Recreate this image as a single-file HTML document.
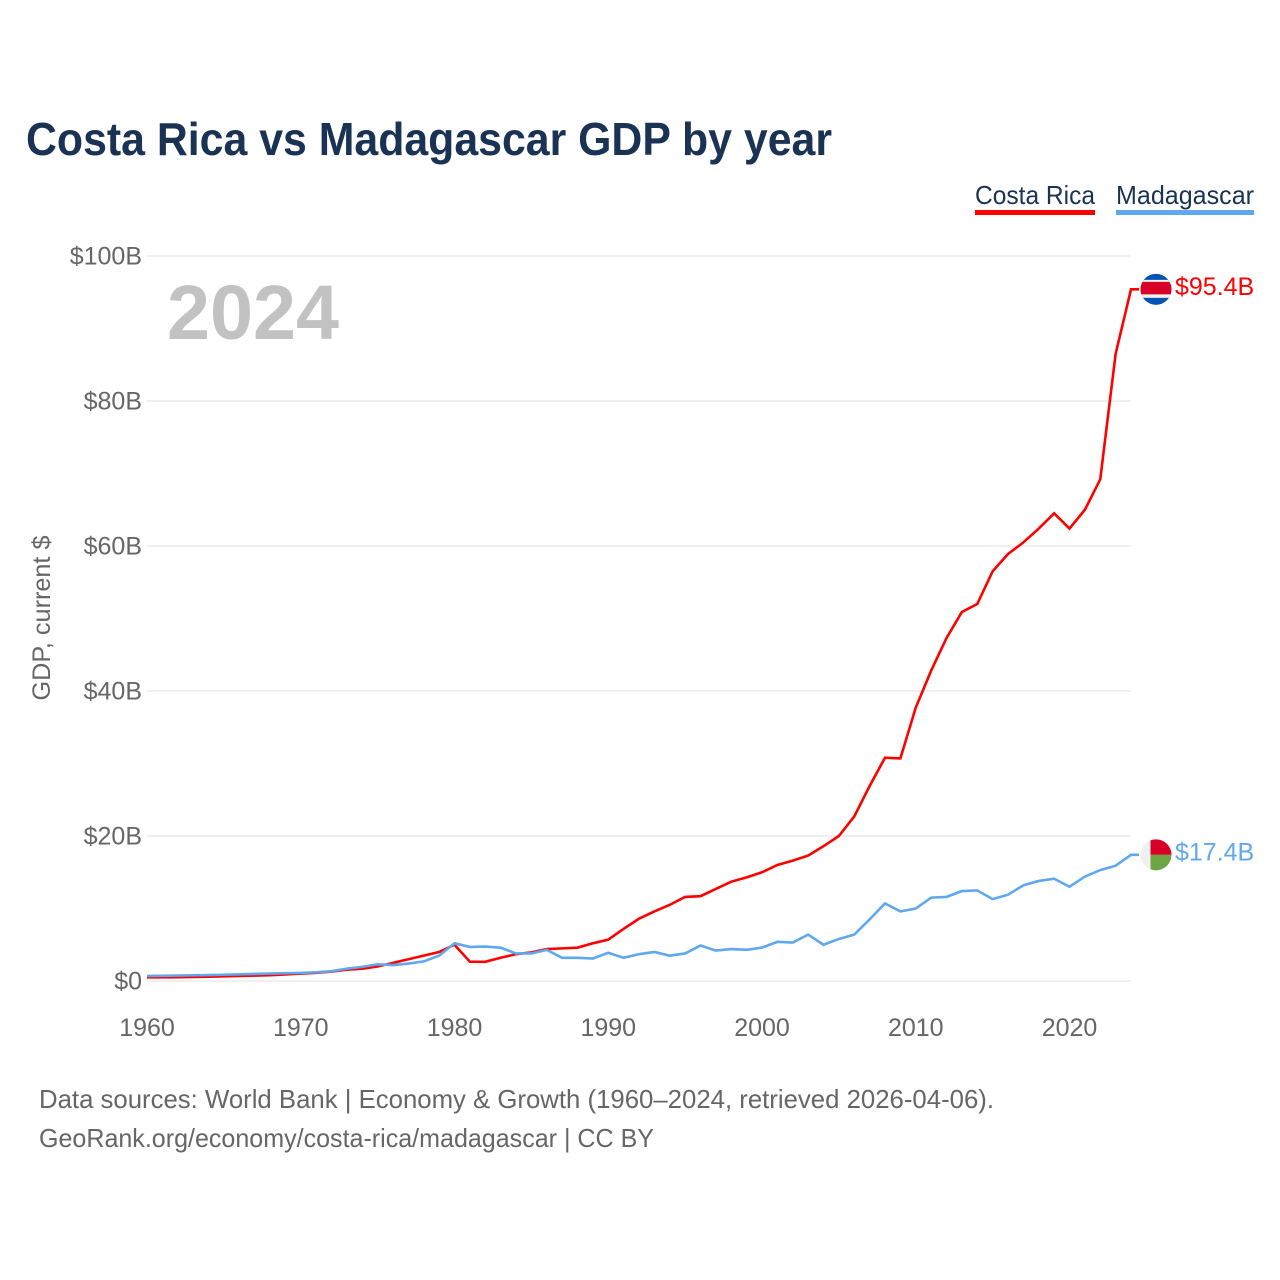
<!DOCTYPE html>
<html lang="en">
<head>
<meta charset="utf-8">
<title>Costa Rica vs Madagascar GDP by year</title>
<style>
html,body{margin:0;padding:0;background:#fff;width:1280px;height:1280px;overflow:hidden}
svg{display:block}
text{font-family:"Liberation Sans",Arial,sans-serif}
</style>
</head>
<body>
<svg id="chart" width="1280" height="1280" viewBox="0 0 1280 1280" xmlns="http://www.w3.org/2000/svg">
  <defs>
    <clipPath id="flag-clip"><circle cx="0" cy="0" r="15.5"></circle></clipPath>
  </defs>
  <rect width="1280" height="1280" fill="#fff"></rect>
  <text x="26" y="155" font-size="46" font-weight="700" fill="#1a3354" textLength="806" lengthAdjust="spacingAndGlyphs">Costa Rica vs Madagascar GDP by year</text>

  <g>
    <g>
      <text x="975" y="204" font-size="26" fill="#1a3354" textLength="120" lengthAdjust="spacingAndGlyphs">Costa Rica</text>
      <rect x="975" y="210" width="120" height="5" fill="#ff0000"></rect>
    </g>
    <g>
      <text x="1116" y="204" font-size="26" fill="#1a3354" textLength="138" lengthAdjust="spacingAndGlyphs">Madagascar</text>
      <rect x="1116" y="210" width="138" height="5" fill="#5fa8ee"></rect>
    </g>
  </g>

  <g id="grid"></g>
  <g id="y-axis"></g>
  <g id="x-axis"></g>

  <text transform="translate(50,618) rotate(-90)" text-anchor="middle" font-size="25" fill="#666" textLength="165" lengthAdjust="spacingAndGlyphs">GDP, current $</text>
  <text x="167" y="339" font-size="77" font-weight="700" fill="#c2c2c2" textLength="172" lengthAdjust="spacingAndGlyphs">2024</text>

  <g id="lines"></g>

  <g id="flag-cr">
    <g clip-path="url(#flag-clip)">
      <rect x="-16" y="-16" width="32" height="32" fill="#0052b4"></rect>
      <rect x="-16" y="-9.5" width="32" height="18" fill="#f0f0f0"></rect>
      <rect x="-16" y="-7.5" width="32" height="12.5" fill="#d80027"></rect>
    </g>
  </g>
  <g id="flag-mg">
    <g clip-path="url(#flag-clip)">
      <rect x="-16" y="-16" width="32" height="32" fill="#f0f0f0"></rect>
      <rect x="-5.5" y="-16" width="22" height="16" fill="#d80027"></rect>
      <rect x="-5.5" y="0" width="22" height="16" fill="#6da544"></rect>
    </g>
  </g>
  <text id="value-cr" x="1175" font-size="25" fill="#ff0000"></text>
  <text id="value-mg" x="1175" font-size="25" fill="#5fa8ee"></text>

  <text x="39" y="1108" font-size="26" fill="#666" textLength="955" lengthAdjust="spacingAndGlyphs">Data sources: World Bank | Economy &amp; Growth (1960–2024, retrieved 2026-04-06).</text>
  <text x="39" y="1147" font-size="26" fill="#666" textLength="615" lengthAdjust="spacingAndGlyphs">GeoRank.org/economy/costa-rica/madagascar | CC BY</text>
</svg>
<script>
const firstYear = 1960;
const xTickYears = [1960, 1970, 1980, 1990, 2000, 2010, 2020];
const yTickValues = [0, 20, 40, 60, 80, 100];
const costaRicaGdp = [0.5,0.5,0.52,0.55,0.6,0.65,0.7,0.75,0.8,0.9,1.02,1.12,1.3,1.55,1.7,2.0,2.5,3.0,3.5,4.0,5.0,2.66,2.65,3.2,3.7,3.95,4.4,4.5,4.6,5.2,5.7,7.2,8.6,9.6,10.5,11.6,11.7,12.7,13.7,14.3,15.0,16.0,16.6,17.3,18.6,20.0,22.7,26.9,30.8,30.7,37.7,42.8,47.3,50.9,52.0,56.5,58.9,60.5,62.4,64.5,62.4,65.0,69.2,86.5,95.4];
const madagascarGdp = [0.7,0.72,0.75,0.78,0.82,0.86,0.92,0.98,1.03,1.08,1.12,1.2,1.35,1.7,1.95,2.3,2.2,2.4,2.7,3.5,5.2,4.7,4.75,4.6,3.8,3.8,4.3,3.2,3.2,3.1,3.9,3.2,3.7,4.0,3.5,3.8,4.9,4.2,4.4,4.3,4.6,5.4,5.3,6.4,5.0,5.8,6.4,8.5,10.7,9.6,10.0,11.5,11.6,12.4,12.5,11.3,11.9,13.2,13.8,14.1,13.0,14.4,15.3,15.9,17.4];

const NS = 'http://www.w3.org/2000/svg';
function xScale(year) { return 147 + (year - 1960) * (1131 - 147) / 64; }
function yScale(value) { return 981 - value * 7.25; }
function formatValue(v) { return '$' + v.toFixed(1) + 'B'; }

const grid = document.getElementById('grid');
const yAxis = document.getElementById('y-axis');
yTickValues.forEach(function (v) {
  const line = document.createElementNS(NS, 'line');
  
  
  line.setAttribute('x1', 147);
  line.setAttribute('x2', 1131);
  line.setAttribute('y1', yScale(v));
  line.setAttribute('y2', yScale(v));
  line.setAttribute('stroke', '#ececec');
  line.setAttribute('stroke-width', 1.5);
  grid.appendChild(line);
  const label = document.createElementNS(NS, 'text');
  
  
  label.setAttribute('x', 142);
  label.setAttribute('y', yScale(v) + 8.6);
  label.setAttribute('text-anchor', 'end');
  label.setAttribute('font-size', 25);
  label.setAttribute('fill', '#666');
  label.textContent = '$' + v + 'B';
  if (v === 0) { label.textContent = '$0'; }
  yAxis.appendChild(label);
});

const xAxis = document.getElementById('x-axis');
xTickYears.forEach(function (yr) {
  const label = document.createElementNS(NS, 'text');
  
  
  label.setAttribute('x', xScale(yr));
  label.setAttribute('y', 1036);
  label.setAttribute('text-anchor', 'middle');
  label.setAttribute('font-size', 25);
  label.setAttribute('fill', '#666');
  label.textContent = yr;
  xAxis.appendChild(label);
});

const lines = document.getElementById('lines');
function drawSeries(values, color, name) {
  const pts = values.map(function (v, i) {
    return xScale(firstYear + i).toFixed(2) + ',' + yScale(v).toFixed(2);
  });
  const last = values[values.length - 1];
  pts.push((xScale(firstYear + values.length - 1) + 8).toFixed(2) + ',' + yScale(last).toFixed(2));
  const path = document.createElementNS(NS, 'polyline');
  
  
  path.setAttribute('points', pts.join(' '));
  path.setAttribute('fill', 'none');
  path.setAttribute('stroke', color);
  path.setAttribute('stroke-width', 2.6);
  lines.appendChild(path);
}
drawSeries(costaRicaGdp, '#ff0000', 'line-costa-rica');
drawSeries(madagascarGdp, '#5fa8ee', 'line-madagascar');

function placeEnd(values, flagId, labelId) {
  const last = values[values.length - 1];
  const y = yScale(last);
  document.getElementById(flagId).setAttribute('transform', 'translate(1156,' + y + ')');
  const label = document.getElementById(labelId);
  label.setAttribute('y', y + 5.5);
  label.textContent = formatValue(last);
}
placeEnd(costaRicaGdp, 'flag-cr', 'value-cr');
placeEnd(madagascarGdp, 'flag-mg', 'value-mg');
</script>
</body>
</html>
